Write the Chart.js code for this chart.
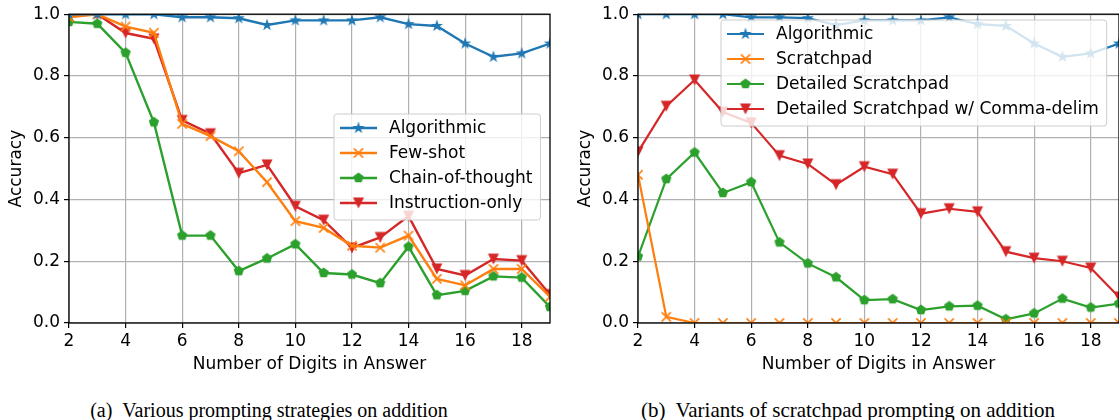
<!DOCTYPE html>
<html>
<head>
<meta charset="utf-8">
<script src="https://cdn.jsdelivr.net/npm/chart.js@4.4.1/dist/chart.umd.min.js"></script>
<style>
  body { margin: 0; background: #fff; width: 1119px; height: 420px; overflow: hidden; position: relative; }
  canvas { position: absolute; top: 0; }
  .caption {
    position: absolute; top: 399px; height: 22px; line-height: 22px;
    font-family: "Liberation Serif", "Times New Roman", serif;
    text-align: center; color: #000; white-space: nowrap;
  }
  .caption span { margin-right: 10px; }
</style>
</head>
<body>
<canvas id="chartA" width="560" height="375" style="left:0"></canvas>
<canvas id="chartB" width="562" height="375" style="left:569px"></canvas>
<div class="caption" style="left:0; width:538px; font-size:20px"><span>(a)</span>Various prompting strategies on addition</div>
<div class="caption" style="left:577px; width:542px; font-size:21px"><span>(b)</span>Variants of scratchpad prompting on addition</div>
<script>
// x values and tick labels
const digits = [2, 3, 4, 5, 6, 7, 8, 9, 10, 11, 12, 13, 14, 15, 16, 17, 18, 19];
const xTicks = [2, 4, 6, 8, 10, 12, 14, 16, 18];
const yTicks = [0, 0.2, 0.4, 0.6, 0.8, 1.0];

// (a) prompting strategies
const algorithmic = [1.0, 1.0, 1.0, 1.0, 0.99, 0.99, 0.987, 0.965, 0.98, 0.98, 0.98, 0.99, 0.968, 0.962, 0.905, 0.862, 0.873, 0.905];
const fewShot = [0.99, 1.0, 0.96, 0.94, 0.645, 0.605, 0.556, 0.456, 0.33, 0.308, 0.25, 0.244, 0.283, 0.143, 0.122, 0.175, 0.175, 0.085];
const chainOfThought = [0.975, 0.969, 0.875, 0.65, 0.283, 0.283, 0.168, 0.209, 0.255, 0.162, 0.157, 0.129, 0.247, 0.09, 0.104, 0.151, 0.147, 0.052];
const instructionOnly = [0.995, 1.0, 0.939, 0.92, 0.656, 0.613, 0.485, 0.512, 0.378, 0.333, 0.243, 0.277, 0.346, 0.175, 0.154, 0.207, 0.202, 0.092];

// (b) scratchpad variants
const scratchpad = [0.48, 0.02, 0, 0, 0, 0, 0, 0, 0, 0, 0, 0, 0, 0, 0, 0, 0, 0];
const detailedScratchpad = [0.215, 0.466, 0.552, 0.421, 0.456, 0.261, 0.193, 0.148, 0.074, 0.077, 0.042, 0.054, 0.056, 0.012, 0.031, 0.079, 0.05, 0.063];
const detailedComma = [0.554, 0.702, 0.787, 0.683, 0.648, 0.542, 0.515, 0.448, 0.506, 0.482, 0.354, 0.37, 0.36, 0.231, 0.21, 0.2, 0.178, 0.084];

const BLUE = '#1f77b4', ORANGE = '#ff7f0e', GREEN = '#2ca02c', RED = '#d62728';
const FONT = 'DejaVu Sans';
const FS = 17;

// matplotlib-like marker glyphs as small canvases
function makeMarker(shape, color) {
  const c = document.createElement('canvas');
  c.width = c.height = 16;
  const g = c.getContext('2d');
  g.translate(8, 8);
  g.fillStyle = color;
  g.strokeStyle = color;
  g.beginPath();
  if (shape === 'star') {
    const R = 6.4, r = R * 0.382;
    for (let i = 0; i < 10; i++) {
      const a = -Math.PI / 2 + i * Math.PI / 5;
      const rr = i % 2 ? r : R;
      g.lineTo(rr * Math.cos(a), rr * Math.sin(a));
    }
    g.closePath(); g.fill();
  } else if (shape === 'pentagon') {
    const R = 5.4;
    for (let i = 0; i < 5; i++) {
      const a = -Math.PI / 2 + i * 2 * Math.PI / 5;
      g.lineTo(R * Math.cos(a), R * Math.sin(a));
    }
    g.closePath(); g.fill();
  } else if (shape === 'tridown') {
    const s = 5.5;
    g.moveTo(-s, -s); g.lineTo(s, -s); g.lineTo(0, s);
    g.closePath(); g.fill();
  } else if (shape === 'x') {
    const s = 4.6;
    g.lineWidth = 1.6;
    g.moveTo(-s, -s); g.lineTo(s, s);
    g.moveTo(-s, s); g.lineTo(s, -s);
    g.stroke();
  }
  return c;
}

function series(label, values, color, shape, width) {
  return {
    label: label,
    data: digits.map((d, i) => ({ x: d, y: values[i] })),
    borderColor: color,
    backgroundColor: color,
    borderWidth: width,
    pointStyle: makeMarker(shape, color),
    pointRadius: 5,
    tension: 0,
    clip: 0
  };
}

// frame (all four spines) + boxed legend drawn over the lines
const framePlugin = {
  id: 'frame',
  afterDraw(chart, args, opts) {
    const { ctx, chartArea: a } = chart;
    ctx.save();
    ctx.strokeStyle = '#000';
    ctx.lineWidth = 1.3;
    ctx.strokeRect(a.left, a.top, a.right - a.left, a.bottom - a.top);

    const lg = opts.legend;
    if (lg) {
      const rowH = 25;
      ctx.font = FS + 'px "' + FONT + '"';
      const sets = chart.data.datasets;
      const textW = Math.max(...sets.map(d => ctx.measureText(d.label).width));
      const w = 55 + textW + 8;
      const h = sets.length * rowH + 6;
      ctx.beginPath();
      ctx.roundRect(lg.x, lg.y, w, h, 3);
      ctx.fillStyle = 'rgba(255,255,255,0.8)';
      ctx.fill();
      ctx.strokeStyle = '#cccccc';
      ctx.lineWidth = 1;
      ctx.stroke();
      sets.forEach((d, i) => {
        const cy = lg.y + 14 + i * rowH;
        ctx.strokeStyle = d.borderColor;
        ctx.lineWidth = d.borderWidth;
        ctx.beginPath();
        ctx.moveTo(lg.x + 6, cy); ctx.lineTo(lg.x + 43, cy);
        ctx.stroke();
        ctx.drawImage(d.pointStyle, lg.x + 24.5 - 8, cy - 8);
        ctx.fillStyle = '#000';
        ctx.textBaseline = 'middle';
        ctx.fillText(d.label, lg.x + 55, cy + 1);
      });
    }
    ctx.restore();
  }
};

function makeChart(id, datasets, legendPos, padRight) {
  return new Chart(document.getElementById(id), {
    type: 'line',
    data: { datasets: datasets },
    plugins: [framePlugin],
    options: {
      responsive: false,
      animation: false,
      layout: { padding: { top: 11, right: padRight, left: 0, bottom: 0 } },
      plugins: {
        legend: { display: false },
        tooltip: { enabled: false },
        frame: { legend: legendPos }
      },
      scales: {
        x: {
          type: 'linear',
          min: 2,
          max: 19,
          afterBuildTicks: s => { s.ticks = xTicks.map(v => ({ value: v })); },
          afterFit: s => { s.height = 52; },
          grid: { color: '#b0b0b0', lineWidth: 1.2, tickColor: '#000', tickLength: 5, tickWidth: 1.2 },
          border: { display: false },
          ticks: { color: '#000', padding: 3, font: { family: FONT, size: FS }, maxRotation: 0 },
          title: { display: true, text: 'Number of Digits in Answer', color: '#000', font: { family: FONT, size: FS }, padding: { top: 0, bottom: 0 } }
        },
        y: {
          min: 0,
          max: 1,
          afterBuildTicks: s => { s.ticks = yTicks.map(v => ({ value: v })); },
          afterFit: s => { s.width = 69; },
          grid: { color: '#b0b0b0', lineWidth: 1.2, tickColor: '#000', tickLength: 5, tickWidth: 1.2 },
          border: { display: false },
          ticks: { color: '#000', padding: 4, font: { family: FONT, size: FS }, callback: v => v.toFixed(1) },
          title: { display: true, text: 'Accuracy', color: '#000', font: { family: FONT, size: FS }, padding: { top: 6, bottom: 0 } }
        }
      }
    }
  });
}

makeChart('chartA', [
  series('Algorithmic', algorithmic, BLUE, 'star', 2.4),
  series('Few-shot', fewShot, ORANGE, 'x', 2.4),
  series('Chain-of-thought', chainOfThought, GREEN, 'pentagon', 2.4),
  series('Instruction-only', instructionOnly, RED, 'tridown', 2.4)
], { x: 334, y: 114 }, 10);

makeChart('chartB', [
  series('Algorithmic', algorithmic, BLUE, 'star', 2.2),
  series('Scratchpad', scratchpad, ORANGE, 'x', 2.2),
  series('Detailed Scratchpad', detailedScratchpad, GREEN, 'pentagon', 2.2),
  series('Detailed Scratchpad w/ Comma-delim', detailedComma, RED, 'tridown', 2.2)
], { x: 721 - 569, y: 20 }, 12);
</script>
</body>
</html>
